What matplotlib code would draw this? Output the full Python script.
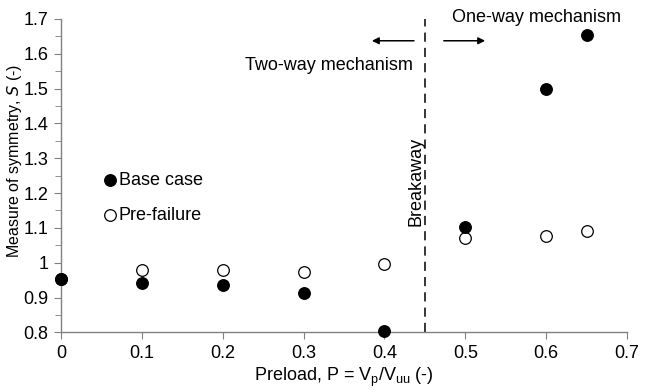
import numpy as np
import matplotlib.pyplot as plt
from matplotlib.ticker import MultipleLocator

plt.rcParams['font.family'] = ['Liberation Sans', 'DejaVu Sans']

preload = [0.0, 0.1, 0.2, 0.3, 0.4, 0.5, 0.6, 0.65]
base_case = [0.952, 0.942, 0.937, 0.912, 0.803, 1.102, 1.498, 1.654]
pre_failure = [0.952, 0.980, 0.978, 0.972, 0.997, 1.072, 1.077, 1.092]
breakaway = 0.45

fs = 13

fig, ax = plt.subplots(figsize=(6.51, 3.92), dpi=100)
fig.subplots_adjust(left=0.094, right=0.963, top=0.952, bottom=0.152)

ax.scatter(preload, pre_failure, s=70, facecolor='white', edgecolor='black',
           linewidth=0.9, label='Pre-failure', zorder=3, clip_on=False)
ax.scatter(preload, base_case, s=70, facecolor='black', edgecolor='black',
           linewidth=0.9, label='Base case', zorder=4, clip_on=False)

ax.axvline(breakaway, color='black', linestyle=(0, (6, 4)), linewidth=1.1)

ax.annotate('', xy=(0.381, 1.637), xytext=(0.440, 1.637),
            arrowprops=dict(arrowstyle='-|>', color='black', lw=1.1,
                            mutation_scale=10))
ax.annotate('', xy=(0.528, 1.637), xytext=(0.470, 1.637),
            arrowprops=dict(arrowstyle='-|>', color='black', lw=1.1,
                            mutation_scale=10))

ax.text(0.588, 1.705, 'One-way mechanism', ha='center', va='center', fontsize=fs)
ax.text(0.331, 1.567, 'Two-way mechanism', ha='center', va='center', fontsize=fs)
ax.text(0.439, 1.232, 'Breakaway', ha='center', va='center', rotation=90,
        fontsize=fs)

ax.set_xlim(0, 0.7)
ax.set_ylim(0.8, 1.7)
ax.xaxis.set_major_locator(MultipleLocator(0.1))
ax.yaxis.set_major_locator(MultipleLocator(0.1))
ax.yaxis.set_minor_locator(MultipleLocator(0.05))
ax.xaxis.set_major_formatter(plt.FuncFormatter(lambda v, p: f'{v:g}'))
ax.yaxis.set_major_formatter(plt.FuncFormatter(lambda v, p: f'{v:g}'))

for side in ['top', 'right']:
    ax.spines[side].set_visible(False)
for side in ['left', 'bottom']:
    ax.spines[side].set_color('#808080')
    ax.spines[side].set_linewidth(1.0)
ax.tick_params(which='both', color='#808080', labelsize=fs, direction='out')
ax.tick_params(which='major', length=5, pad=4)
ax.tick_params(which='minor', length=4)

ax.set_xlabel('Preload, P = V$_\\mathregular{p}$/V$_\\mathregular{uu}$ (-)',
              fontsize=fs, labelpad=3)
ax.set_ylabel('Measure of symmetry, $\\mathit{S}$ (-)', fontsize=11.5)
ax.yaxis.set_label_coords(-0.066, 0.546)

handles, labels = ax.get_legend_handles_labels()
ax.legend(handles[::-1], labels[::-1], loc='center left',
          bbox_to_anchor=(0.041, 0.43), frameon=False, fontsize=fs,
          handletextpad=-0.5, labelspacing=1.0, borderaxespad=0)

fig.savefig('out.png', dpi=100)
